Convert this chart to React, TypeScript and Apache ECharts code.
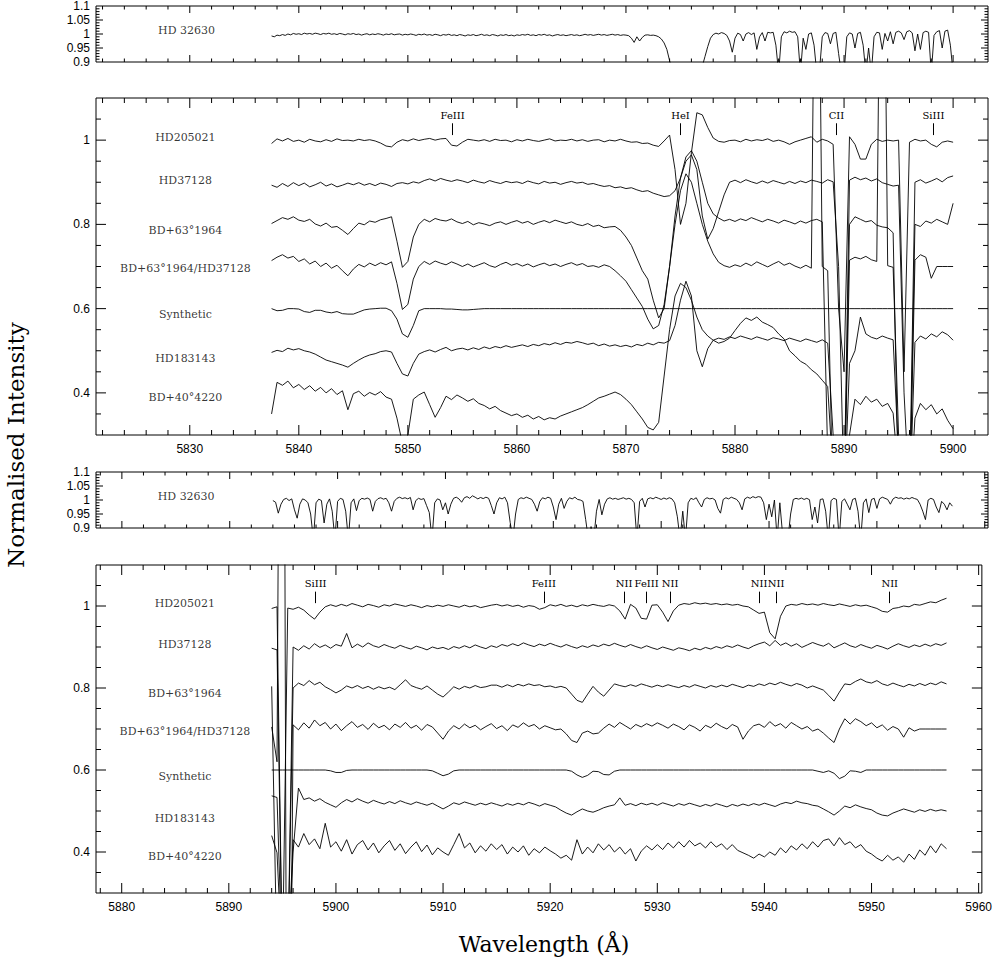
import React, { useEffect, useRef } from 'react';
import * as echarts from 'echarts';

// ---------- wavelength grids ----------
const A_START = 5837.5; // panels 1-2
const B_START = 5894.0; // panels 3-4
const STEP = 0.5;
const TSTEP = 0.25;

const starNames = ['HD205021', 'HD37128', 'BD+63°1964', 'BD+63°1964/HD37128', 'Synthetic', 'HD183143', 'BD+40°4220'];
const labelLevels = [1.007, 0.905, 0.786, 0.695, 0.585, 0.482, 0.388];
const tellName = 'HD 32630';

const idLinesA: [string, number][] = [['FeIII', 5854.1], ['HeI', 5875.0], ['CII', 5889.3], ['SiIII', 5898.2]];
const idLinesB: [string, number][] = [['SiIII', 5898.1], ['FeIII', 5919.4], ['NII', 5926.9], ['FeIII', 5929.0], ['NII', 5931.2], ['NII', 5939.5], ['NII', 5941.1], ['NII', 5951.7]];

// ---------- telluric standard HD 32630 ----------
const tellA = [
  0.993, 0.990, 0.996, 0.994, 0.998, 0.995, 1.000, 0.997, 1.002, 0.999,
  1.001, 0.998, 1.003, 1.000, 1.002, 0.999, 1.003, 1.001, 0.998, 1.002,
  1.000, 1.003, 0.999, 1.001, 0.998, 1.002, 1.000, 0.997, 1.001, 0.999,
  1.002, 0.998, 1.000, 0.996, 0.999, 1.001, 0.997, 1.000, 0.998, 1.001,
  0.999, 0.996, 1.000, 0.998, 1.001, 0.997, 0.999, 1.000, 0.996, 0.999,
  0.997, 1.000, 0.998, 0.995, 0.999, 0.997, 1.000, 0.996, 0.998, 0.995,
  0.999, 0.997, 0.994, 0.998, 0.996, 0.999, 0.995, 0.997, 0.994, 0.998,
  0.996, 0.993, 0.997, 0.995, 0.998, 0.994, 0.996, 0.999, 0.995, 0.997,
  0.994, 0.998, 0.996, 0.993, 0.997, 0.995, 0.998, 0.994, 0.996, 0.993,
  0.997, 0.995, 0.998, 0.996, 0.999, 0.995, 0.997, 0.994, 0.998, 0.996,
  0.999, 0.995, 0.997, 0.993, 0.996, 0.998, 0.995, 0.997, 0.994, 0.996,
  0.998, 0.995, 0.997, 0.994, 0.996, 0.999, 0.996, 0.998, 0.995, 0.997,
  0.999, 0.996, 0.998, 0.995, 0.997, 0.999, 0.996, 0.998, 0.995, 0.997,
  0.996, 0.994, 0.985, 0.970, 0.990, 0.975, 0.988, 0.996, 0.997, 0.995,
  0.996, 0.994, 0.990, 0.982, 0.968, 0.945, 0.905, 0.860, 0.820, 0.800,
  0.780, 0.770, 0.760, 0.760, 0.765, 0.780, 0.810, 0.840, 0.885, 0.920,
  0.955, 0.985, 0.998, 1.003, 1.000, 1.005, 1.002, 0.995, 0.975, 0.935,
  0.985, 1.003, 0.998, 0.975, 1.000, 1.005, 0.998, 1.004, 0.945, 0.990,
  1.005, 0.975, 1.006, 1.004, 1.006, 0.960, 0.860, 0.990, 1.008, 1.004,
  1.010, 1.006, 1.008, 0.990, 0.860, 0.985, 0.945, 1.000, 1.004, 0.960,
  0.860, 0.870, 0.990, 1.005, 1.002, 0.965, 1.002, 1.006, 0.930, 0.860,
  0.860, 0.990, 1.004, 1.000, 0.950, 1.002, 1.006, 0.960, 0.860, 0.950,
  0.860, 0.990, 1.006, 1.004, 0.945, 1.002, 0.975, 1.008, 0.965, 1.006,
  1.010, 1.004, 0.980, 1.008, 1.012, 1.004, 0.940, 1.000, 0.945, 1.005,
  1.010, 1.006, 0.860, 0.995, 1.008, 1.012, 0.950, 1.010, 1.014, 0.960,
  0.860,
];
const tellB = [
  0.998, 0.992, 0.953, 0.985, 1.002, 1.006, 0.998, 1.004, 0.965, 0.935,
  0.985, 1.004, 1.000, 0.990, 0.950, 0.860, 0.990, 1.003, 0.998, 0.918,
  0.985, 1.004, 0.960, 0.860, 0.995, 1.006, 1.002, 0.960, 0.860, 0.990,
  1.004, 0.962, 0.998, 1.006, 1.003, 1.007, 1.002, 0.960, 0.995, 1.005,
  1.008, 1.003, 1.006, 0.990, 0.960, 0.995, 1.006, 1.010, 1.005, 1.008,
  1.004, 1.009, 0.965, 0.998, 1.006, 1.002, 1.005, 0.980, 0.955, 0.860,
  0.990, 1.004, 1.000, 0.965, 0.990, 0.950, 0.985, 1.006, 1.010, 1.004,
  0.992, 1.008, 1.012, 1.006, 1.015, 1.010, 1.004, 1.009, 1.005, 1.010,
  1.006, 0.980, 0.950, 0.990, 1.008, 1.004, 1.010, 0.990, 0.920, 0.860,
  0.950, 1.002, 1.008, 1.005, 1.010, 1.006, 1.002, 0.985, 0.960, 0.995,
  1.008, 1.004, 1.010, 1.006, 0.975, 0.930, 0.985, 1.006, 0.970, 0.995,
  1.008, 1.004, 1.010, 1.002, 1.000, 0.995, 0.930, 0.860, 0.905, 0.860,
  0.960, 1.002, 0.947, 0.985, 1.004, 1.008, 1.003, 1.006, 1.002, 1.005,
  1.008, 1.003, 1.006, 1.002, 0.990, 0.860, 0.995, 1.006, 0.975, 1.004,
  1.008, 1.004, 1.010, 1.006, 1.002, 1.007, 1.003, 1.008, 1.004, 0.990,
  0.940, 0.860, 0.960, 0.860, 0.990, 1.006, 1.002, 1.008, 0.990, 0.975,
  1.002, 1.008, 1.004, 1.006, 1.000, 0.970, 0.953, 1.002, 1.008, 1.004,
  1.010, 1.006, 1.002, 0.990, 0.965, 1.004, 1.010, 1.006, 1.012, 1.008,
  1.012, 1.010, 0.990, 0.930, 0.985, 0.940, 1.000, 0.860, 0.990, 0.880,
  0.860, 0.860, 0.950, 1.002, 1.006, 1.003, 1.007, 1.002, 1.006, 1.001,
  0.930, 0.975, 0.918, 1.002, 1.004, 0.960, 0.860, 0.998, 1.006, 1.002,
  0.860, 0.995, 1.004, 0.985, 0.965, 1.002, 1.006, 0.960, 0.860, 0.990,
  1.004, 0.955, 1.002, 1.006, 0.970, 1.004, 1.010, 1.006, 1.002, 0.985,
  1.004, 1.010, 1.006, 1.008, 1.003, 1.007, 1.004, 1.009, 1.005, 1.002,
  0.985, 0.960, 0.930, 1.000, 1.006, 1.002, 0.975, 0.955, 0.995, 0.985,
  0.965, 0.990, 0.978,
];

// ---------- panel 2 (5837.5 - 5900, step 0.5) ----------
const hd205021A = [
  0.992, 1.003, 0.998, 1.004, 0.997,
  1.000, 0.995, 1.002, 0.998, 0.996, 1.001, 0.997, 1.003, 0.999, 1.000,
  0.998, 1.002, 0.999, 1.001, 0.998, 0.993, 0.986, 0.984, 0.995, 1.001,
  0.998, 1.003, 0.999, 1.002, 1.004, 1.000, 1.003, 1.004, 0.988, 0.986,
  0.995, 1.002, 1.000, 0.998, 1.001, 0.997, 1.002, 0.999, 1.000, 0.996,
  1.001, 0.998, 1.002, 0.999, 0.997, 1.000, 1.003, 0.998, 1.000, 0.999,
  1.002, 0.998, 1.001, 0.997, 1.000, 1.001, 0.996, 1.000, 0.998, 1.002,
  0.998, 0.995, 0.996, 0.992, 0.993, 0.988, 0.985, 0.998, 1.012, 0.930,
  0.800, 0.850, 0.970, 1.065, 1.060, 1.030, 1.005, 0.997, 0.995, 0.999,
  1.000, 0.996, 1.002, 0.998, 1.001, 0.999, 1.003, 0.997, 1.000, 0.996,
  0.990, 0.996, 1.000, 1.004, 1.008, 0.995, 1.002, 0.998, 0.990, 0.600,
  0.450, 1.008, 0.990, 0.955, 0.955, 0.990, 1.002, 0.997, 1.000, 0.998,
  1.000, 0.450, 0.995, 1.002, 0.998, 1.000, 0.990, 0.984, 0.995, 0.998,
  0.995,
];
const hd37128A = [
  0.893, 0.888, 0.897, 0.890, 0.899,
  0.892, 0.898, 0.889, 0.894, 0.900, 0.891, 0.896, 0.889, 0.893, 0.898,
  0.894, 0.899, 0.893, 0.897, 0.892, 0.898, 0.895, 0.890, 0.897, 0.899,
  0.896, 0.901, 0.898, 0.904, 0.908, 0.903, 0.909, 0.905, 0.902, 0.906,
  0.903, 0.899, 0.905, 0.901, 0.898, 0.904, 0.900, 0.897, 0.902, 0.899,
  0.901, 0.897, 0.903, 0.899, 0.896, 0.902, 0.898, 0.900, 0.895, 0.899,
  0.902, 0.898, 0.900, 0.895, 0.897, 0.893, 0.890, 0.892, 0.887, 0.889,
  0.885, 0.887, 0.882, 0.878, 0.880, 0.874, 0.870, 0.866, 0.868, 0.880,
  0.910, 0.950, 0.965, 0.930, 0.820, 0.765, 0.790, 0.830, 0.870, 0.900,
  0.905, 0.899, 0.906, 0.901, 0.897, 0.903, 0.898, 0.904, 0.900, 0.896,
  0.902, 0.897, 0.903, 0.899, 0.905, 0.902, 0.898, 0.906, 0.901, 0.700,
  0.150, 0.905, 0.912, 0.906, 0.910, 0.903, 0.908, 0.899, 0.895, 0.891,
  0.893, 0.400, 0.150, 0.900, 0.906, 0.898, 0.903, 0.909, 0.901, 0.911,
  0.915,
];
const bd63A = [
  0.802, 0.809, 0.816, 0.812, 0.818,
  0.810, 0.807, 0.812, 0.801, 0.796, 0.803, 0.793, 0.795, 0.786, 0.776,
  0.790, 0.803, 0.799, 0.808, 0.805, 0.811, 0.814, 0.818, 0.760, 0.698,
  0.712, 0.770, 0.800, 0.812, 0.806, 0.814, 0.810, 0.808, 0.813, 0.806,
  0.802, 0.807, 0.799, 0.804, 0.801, 0.797, 0.803, 0.806, 0.800, 0.805,
  0.809, 0.803, 0.807, 0.800, 0.805, 0.809, 0.804, 0.810, 0.806, 0.802,
  0.806, 0.800, 0.797, 0.802, 0.795, 0.798, 0.792, 0.794, 0.795, 0.786,
  0.770, 0.750, 0.720, 0.690, 0.670, 0.620, 0.578, 0.600, 0.700, 0.820,
  0.910, 0.960, 0.975, 0.950, 0.900, 0.850, 0.825, 0.815, 0.808, 0.812,
  0.807, 0.813, 0.809, 0.816, 0.811, 0.806, 0.812, 0.808, 0.803, 0.810,
  0.806, 0.801, 0.808, 0.803, 0.809, 0.812, 0.806, 0.250, 0.120, 0.120,
  0.120, 0.800, 0.818, 0.812, 0.806, 0.809, 0.798, 0.794, 0.792, 0.780,
  0.150, 0.120, 0.120, 0.800, 0.795, 0.808, 0.803, 0.812, 0.806, 0.800,
  0.850,
];
const ratioA = [
  0.714, 0.722, 0.728, 0.720, 0.724,
  0.712, 0.718, 0.706, 0.713, 0.700, 0.708, 0.696, 0.703, 0.690, 0.678,
  0.694, 0.705, 0.699, 0.708, 0.702, 0.709, 0.704, 0.711, 0.660, 0.598,
  0.610, 0.670, 0.700, 0.712, 0.705, 0.713, 0.708, 0.704, 0.711, 0.706,
  0.700, 0.706, 0.699, 0.704, 0.709, 0.702, 0.698, 0.705, 0.710, 0.703,
  0.707, 0.701, 0.706, 0.699, 0.704, 0.708, 0.702, 0.706, 0.700, 0.705,
  0.709, 0.703, 0.707, 0.700, 0.702, 0.698, 0.704, 0.700, 0.690, 0.678,
  0.665, 0.645, 0.625, 0.605, 0.575, 0.552, 0.560, 0.610, 0.700, 0.800,
  0.880, 0.920, 0.900, 0.850, 0.800, 0.760, 0.730, 0.710, 0.702, 0.698,
  0.704, 0.700, 0.708, 0.702, 0.711, 0.705, 0.699, 0.706, 0.712, 0.703,
  0.708, 0.701, 0.696, 0.703, 0.696, 2.000, 0.700, 0.690, 0.120, 0.120,
  0.120, 0.715, 0.722, 0.718, 0.724, 0.716, 0.712, 2.000, 0.702, 0.698,
  0.300, 0.120, 0.120, 0.715, 0.728, 0.722, 0.672, 0.700, 0.700, 0.700,
  0.700,
];
const synthA = [
  0.600, 0.595, 0.596, 0.600, 0.600,
  0.599, 0.593, 0.591, 0.596, 0.596, 0.592, 0.590, 0.593, 0.588, 0.587,
  0.587, 0.592, 0.597, 0.599, 0.600, 0.601, 0.601, 0.595, 0.575, 0.540,
  0.532, 0.560, 0.595, 0.600, 0.600, 0.600, 0.600, 0.599, 0.599, 0.598,
  0.597, 0.597, 0.598, 0.599, 0.600, 0.600, 0.600, 0.600, 0.600, 0.600,
  0.600, 0.600, 0.600, 0.600, 0.600, 0.600, 0.600, 0.600, 0.600, 0.600,
  0.600, 0.600, 0.600, 0.600, 0.600, 0.600, 0.600, 0.600, 0.600, 0.600,
  0.600, 0.600, 0.600, 0.600, 0.600, 0.600, 0.600, 0.600, 0.600, 0.600,
  0.600, 0.600, 0.600, 0.600, 0.600, 0.600, 0.600, 0.600, 0.600, 0.600,
  0.600, 0.600, 0.600, 0.600, 0.600, 0.600, 0.600, 0.600, 0.600, 0.600,
  0.600, 0.600, 0.600, 0.600, 0.600, 0.600, 0.600, 0.600, 0.600, 0.600,
  0.600, 0.600, 0.600, 0.600, 0.600, 0.600, 0.600, 0.600, 0.600, 0.600,
  0.600, 0.600, 0.600, 0.600, 0.600, 0.600, 0.600, 0.600, 0.600, 0.600,
  0.600,
];
const hd183143A = [
  0.496, 0.501, 0.498, 0.506, 0.502,
  0.505, 0.500, 0.497, 0.492, 0.485, 0.478, 0.474, 0.470, 0.466, 0.461,
  0.470, 0.478, 0.485, 0.490, 0.493, 0.498, 0.500, 0.497, 0.470, 0.445,
  0.440, 0.470, 0.492, 0.498, 0.502, 0.497, 0.503, 0.508, 0.500, 0.504,
  0.506, 0.502, 0.507, 0.503, 0.509, 0.505, 0.510, 0.507, 0.512, 0.508,
  0.511, 0.514, 0.510, 0.515, 0.512, 0.517, 0.514, 0.519, 0.515, 0.520,
  0.518, 0.522, 0.519, 0.515, 0.518, 0.512, 0.516, 0.511, 0.514, 0.510,
  0.513, 0.509, 0.515, 0.512, 0.518, 0.514, 0.520, 0.518, 0.524, 0.560,
  0.620, 0.665, 0.630, 0.500, 0.462, 0.505, 0.525, 0.530, 0.527, 0.533,
  0.529, 0.535, 0.531, 0.527, 0.533, 0.529, 0.525, 0.531, 0.528, 0.524,
  0.530, 0.526, 0.522, 0.528, 0.524, 0.520, 0.526, 0.518, 0.300, 0.120,
  0.120, 0.470, 0.500, 0.580, 0.540, 0.532, 0.528, 0.535, 0.530, 0.526,
  0.250, 0.120, 0.120, 0.520, 0.535, 0.528, 0.540, 0.533, 0.545, 0.538,
  0.525,
];
const bd40A = [
  0.350, 0.425, 0.418, 0.428, 0.412,
  0.420, 0.408, 0.417, 0.404, 0.413, 0.400, 0.410, 0.396, 0.405, 0.360,
  0.398, 0.404, 0.392, 0.401, 0.395, 0.403, 0.390, 0.385, 0.340, 0.280,
  0.300, 0.385, 0.395, 0.402, 0.372, 0.342, 0.365, 0.392, 0.384, 0.395,
  0.388, 0.380, 0.386, 0.375, 0.370, 0.362, 0.368, 0.358, 0.352, 0.346,
  0.350, 0.342, 0.347, 0.338, 0.344, 0.336, 0.341, 0.338, 0.345, 0.350,
  0.355, 0.360, 0.365, 0.372, 0.380, 0.388, 0.392, 0.397, 0.402, 0.396,
  0.385, 0.372, 0.355, 0.338, 0.318, 0.312, 0.330, 0.440, 0.550, 0.630,
  0.660, 0.650, 0.620, 0.580, 0.550, 0.535, 0.525, 0.518, 0.522, 0.530,
  0.548, 0.565, 0.578, 0.572, 0.580, 0.568, 0.562, 0.555, 0.540, 0.528,
  0.500, 0.488, 0.475, 0.468, 0.455, 0.445, 0.430, 0.415, 0.200, 0.120,
  0.120, 0.300, 0.385, 0.372, 0.392, 0.378, 0.385, 0.368, 0.375, 0.352,
  0.200, 0.120, 0.120, 0.340, 0.375, 0.360, 0.372, 0.350, 0.362, 0.335,
  0.315,
];

// ---------- panel 4 (5894 - 5957, step 0.5) ----------
const hd205021B = [
  0.994, 0.998,
  0.120, 0.995, 0.992, 0.997, 0.990, 0.978, 0.968, 0.985, 0.998, 1.003,
  0.999, 1.004, 1.000, 1.006, 1.002, 0.998, 1.004, 1.001, 0.997, 1.003,
  1.000, 1.005, 1.002, 0.999, 1.003, 1.000, 0.996, 1.001, 0.998, 1.002,
  0.999, 1.003, 1.000, 0.997, 1.002, 0.998, 1.001, 0.996, 0.999, 1.002,
  1.004, 1.000, 1.003, 0.999, 1.002, 0.997, 1.001, 0.999, 0.992, 0.996,
  1.003, 1.000, 1.004, 0.999, 1.002, 0.998, 1.003, 1.000, 1.004, 1.001,
  0.999, 1.003, 1.000, 0.988, 0.968, 1.004, 0.995, 0.970, 0.968, 1.002,
  1.003, 0.985, 0.962, 0.988, 1.002, 1.006, 1.004, 1.008, 1.005, 1.007,
  1.004, 1.006, 1.003, 1.005, 1.002, 1.004, 1.000, 0.998, 0.990, 0.982,
  0.985, 0.935, 0.920, 0.975, 1.000, 1.004, 1.002, 1.006, 1.003, 1.005,
  1.002, 1.006, 1.003, 1.001, 1.005, 1.002, 0.999, 1.003, 1.000, 1.002,
  0.998, 0.994, 0.987, 0.985, 0.994, 0.996, 1.000, 0.998, 1.004, 1.002,
  1.006, 1.010, 1.008, 1.014, 1.019,
];
const hd37128B = [
  0.897, 0.893,
  0.120, 0.120, 0.900, 0.892, 0.903, 0.895, 0.908, 0.899, 0.905, 0.897,
  0.906, 0.902, 0.933, 0.898, 0.907, 0.900, 0.910, 0.903, 0.899, 0.906,
  0.901, 0.897, 0.904, 0.899, 0.895, 0.902, 0.898, 0.893, 0.900, 0.896,
  0.899, 0.894, 0.901, 0.897, 0.903, 0.898, 0.905, 0.900, 0.896, 0.903,
  0.899, 0.906, 0.902, 0.908, 0.903, 0.910, 0.905, 0.901, 0.907, 0.903,
  0.909, 0.904, 0.900, 0.906, 0.901, 0.897, 0.903, 0.899, 0.905, 0.901,
  0.907, 0.903, 0.909, 0.904, 0.900, 0.906, 0.901, 0.897, 0.903, 0.898,
  0.894, 0.900, 0.896, 0.892, 0.898, 0.895, 0.891, 0.897, 0.893, 0.899,
  0.895, 0.901, 0.897, 0.903, 0.899, 0.905, 0.900, 0.896, 0.903, 0.908,
  0.912, 0.903, 0.916, 0.904, 0.910, 0.902, 0.908, 0.899, 0.905, 0.911,
  0.906, 0.902, 0.909, 0.898, 0.904, 0.910, 0.903, 0.899, 0.906, 0.901,
  0.897, 0.904, 0.900, 0.895, 0.902, 0.908, 0.903, 0.899, 0.905, 0.901,
  0.907, 0.902, 0.908, 0.904, 0.910,
];
const bd63B = [
  0.804, 0.120,
  0.120, 0.120, 0.800, 0.812, 0.806, 0.818, 0.808, 0.814, 0.803, 0.796,
  0.788, 0.795, 0.805, 0.800, 0.806, 0.799, 0.804, 0.797, 0.803, 0.798,
  0.802, 0.796, 0.808, 0.820, 0.806, 0.801, 0.797, 0.805, 0.795, 0.785,
  0.778, 0.790, 0.803, 0.797, 0.804, 0.800, 0.806, 0.801, 0.803, 0.807,
  0.807, 0.802, 0.808, 0.803, 0.809, 0.805, 0.810, 0.806, 0.808, 0.803,
  0.805, 0.801, 0.804, 0.800, 0.785, 0.770, 0.765, 0.785, 0.804, 0.790,
  0.780, 0.795, 0.810, 0.806, 0.803, 0.808, 0.804, 0.810, 0.806, 0.802,
  0.807, 0.803, 0.808, 0.804, 0.801, 0.806, 0.802, 0.808, 0.804, 0.800,
  0.806, 0.802, 0.807, 0.803, 0.809, 0.805, 0.801, 0.807, 0.804, 0.810,
  0.806, 0.812, 0.808, 0.814, 0.809, 0.805, 0.811, 0.807, 0.800, 0.805,
  0.800, 0.795, 0.782, 0.768, 0.790, 0.810, 0.808, 0.816, 0.822, 0.815,
  0.812, 0.818, 0.810, 0.806, 0.812, 0.807, 0.803, 0.809, 0.805, 0.811,
  0.806, 0.812, 0.808, 0.815, 0.810,
];
const ratioB = [
  0.705, 0.620,
  3.000, -1.000, 0.710, 0.698, 0.715, 0.702, 0.722, 0.708, 0.716, 0.700,
  0.712, 0.696, 0.708, 0.718, 0.704, 0.711, 0.699, 0.714, 0.703, 0.709,
  0.698, 0.712, 0.704, 0.716, 0.702, 0.709, 0.697, 0.711, 0.705, 0.690,
  0.675, 0.695, 0.708, 0.700, 0.712, 0.703, 0.709, 0.698, 0.706, 0.713,
  0.701, 0.708, 0.696, 0.710, 0.704, 0.715, 0.706, 0.711, 0.700, 0.708,
  0.703, 0.698, 0.700, 0.688, 0.672, 0.667, 0.690, 0.695, 0.688, 0.690,
  0.702, 0.712, 0.704, 0.716, 0.708, 0.700, 0.711, 0.705, 0.713, 0.707,
  0.715, 0.709, 0.702, 0.712, 0.706, 0.698, 0.710, 0.704, 0.695, 0.709,
  0.703, 0.714, 0.706, 0.700, 0.711, 0.705, 0.675, 0.695, 0.708, 0.712,
  0.704, 0.718, 0.707, 0.713, 0.702, 0.716, 0.708, 0.700, 0.706, 0.695,
  0.700, 0.690, 0.678, 0.667, 0.700, 0.725, 0.712, 0.725, 0.718, 0.708,
  0.715, 0.703, 0.710, 0.697, 0.706, 0.700, 0.680, 0.703, 0.695, 0.700,
  0.700, 0.700, 0.700, 0.700, 0.700,
];
const synthB = [
  0.600, 0.600,
  0.600, 0.600, 0.600, 0.600, 0.600, 0.600, 0.600, 0.600, 0.600, 0.598,
  0.594, 0.594, 0.599, 0.600, 0.600, 0.600, 0.600, 0.600, 0.600, 0.600,
  0.600, 0.600, 0.600, 0.600, 0.600, 0.600, 0.600, 0.600, 0.598, 0.592,
  0.586, 0.590, 0.598, 0.600, 0.600, 0.600, 0.600, 0.600, 0.600, 0.600,
  0.600, 0.600, 0.600, 0.600, 0.600, 0.600, 0.600, 0.600, 0.600, 0.600,
  0.600, 0.600, 0.600, 0.600, 0.597, 0.588, 0.582, 0.587, 0.597, 0.596,
  0.589, 0.588, 0.597, 0.600, 0.600, 0.600, 0.600, 0.600, 0.600, 0.600,
  0.600, 0.600, 0.600, 0.600, 0.600, 0.600, 0.600, 0.600, 0.600, 0.600,
  0.600, 0.600, 0.600, 0.600, 0.600, 0.600, 0.600, 0.600, 0.600, 0.600,
  0.600, 0.600, 0.600, 0.600, 0.600, 0.600, 0.600, 0.600, 0.600, 0.600,
  0.597, 0.594, 0.598, 0.592, 0.579, 0.585, 0.598, 0.597, 0.594, 0.600,
  0.600, 0.600, 0.600, 0.600, 0.600, 0.600, 0.600, 0.600, 0.600, 0.600,
  0.600, 0.600, 0.600, 0.600, 0.600,
];
const hd183143B = [
  0.537, 0.533,
  0.120, 0.120, 0.400, 0.556, 0.528, 0.532, 0.524, 0.530, 0.521, 0.515,
  0.509, 0.520, 0.528, 0.522, 0.530, 0.524, 0.519, 0.526, 0.521, 0.517,
  0.523, 0.518, 0.525, 0.520, 0.516, 0.522, 0.518, 0.514, 0.519, 0.512,
  0.505, 0.512, 0.520, 0.516, 0.522, 0.518, 0.514, 0.519, 0.515, 0.520,
  0.516, 0.512, 0.518, 0.514, 0.519, 0.515, 0.521, 0.517, 0.512, 0.518,
  0.514, 0.510, 0.502, 0.495, 0.490, 0.498, 0.505, 0.500, 0.497, 0.502,
  0.508, 0.512, 0.515, 0.532, 0.514, 0.518, 0.513, 0.519, 0.515, 0.519,
  0.514, 0.520, 0.516, 0.512, 0.518, 0.514, 0.519, 0.515, 0.511, 0.516,
  0.512, 0.518, 0.514, 0.510, 0.516, 0.512, 0.517, 0.513, 0.518, 0.514,
  0.519, 0.515, 0.511, 0.517, 0.521, 0.518, 0.524, 0.520, 0.518, 0.514,
  0.512, 0.505, 0.498, 0.490, 0.500, 0.512, 0.508, 0.515, 0.510, 0.506,
  0.503, 0.495, 0.490, 0.488, 0.495, 0.500, 0.505, 0.501, 0.497, 0.503,
  0.499, 0.504, 0.500, 0.503, 0.500,
];
const bd40B = [
  0.440, 0.398,
  0.120, 0.120, 0.430, 0.412, 0.445, 0.418, 0.432, 0.408, 0.470, 0.412,
  0.425, 0.402, 0.430, 0.395, 0.418, 0.428, 0.405, 0.422, 0.398, 0.415,
  0.428, 0.404, 0.420, 0.396, 0.412, 0.425, 0.401, 0.417, 0.393, 0.410,
  0.400, 0.392, 0.418, 0.445, 0.410, 0.422, 0.398, 0.415, 0.402, 0.420,
  0.406, 0.418, 0.395, 0.412, 0.400, 0.415, 0.392, 0.408, 0.398, 0.412,
  0.403, 0.395, 0.385, 0.392, 0.380, 0.430, 0.395, 0.412, 0.398, 0.420,
  0.405, 0.418, 0.400, 0.412, 0.395, 0.408, 0.378, 0.402, 0.415, 0.405,
  0.418, 0.406, 0.422, 0.410, 0.425, 0.412, 0.428, 0.415, 0.422, 0.410,
  0.425, 0.412, 0.420, 0.406, 0.418, 0.404, 0.398, 0.392, 0.385, 0.395,
  0.388, 0.400, 0.392, 0.410, 0.398, 0.415, 0.405, 0.420, 0.408, 0.425,
  0.412, 0.428, 0.432, 0.415, 0.435, 0.418, 0.425, 0.410, 0.418, 0.402,
  0.395, 0.385, 0.378, 0.392, 0.380, 0.388, 0.375, 0.395, 0.382, 0.405,
  0.392, 0.415, 0.398, 0.420, 0.408,
];

// ---------- axis ranges & ticks ----------
const xRangeA = [5821.4, 5903.2];
const xRangeB = [5877.6, 5960.3];
const yRangeMain = [0.3, 1.1];
const yRangeTell = [0.9, 1.1];
const xMajorA = [5830, 5840, 5850, 5860, 5870, 5880, 5890, 5900];
const xMajorB = [5880, 5890, 5900, 5910, 5920, 5930, 5940, 5950, 5960];
const yMajorMain = [0.4, 0.6, 0.8, 1.0];
const yMinorMain = [0.35, 0.45, 0.5, 0.55, 0.65, 0.7, 0.75, 0.85, 0.9, 0.95, 1.05];
const yMajorTell = [0.95, 1.0, 1.05];
const yMinorTell = [0.91, 0.92, 0.93, 0.94, 0.96, 0.97, 0.98, 0.99, 1.01, 1.02, 1.03, 1.04, 1.06, 1.07, 1.08, 1.09];

const minorBetween = (lo: number, hi: number) => {
  const out: number[] = [];
  for (let v = lo; v <= hi; v += 2) if (v % 10 !== 0) out.push(v);
  return out;
};
const xMinorA = minorBetween(5822, 5902);
const xMinorB = minorBetween(5878, 5958);

const toPairs = (start: number, step: number, vals: number[]) =>
  vals.map((v, i) => [Math.round((start + i * step) * 100) / 100, v]);

const SERIF = '"DejaVu Serif", serif';
const SANS = '"Liberation Sans", Arial, sans-serif';

// tick marks on all four sides, positioned through the axes of the grid
function tickSeries(gi: number, xMaj: number[], xMin: number[], yMaj: number[], yMin: number[], xRef: number, yRef: number, majLen: number, minLen: number) {
  const data: number[][] = [
    ...xMaj.map((v) => [v, yRef, 1, 0]),
    ...xMin.map((v) => [v, yRef, 0, 0]),
    ...yMaj.map((v) => [xRef, v, 1, 1]),
    ...yMin.map((v) => [xRef, v, 0, 1]),
  ];
  return {
    type: 'custom',
    xAxisIndex: gi,
    yAxisIndex: gi,
    silent: true,
    z: 10,
    clip: false,
    dimensions: ['x', 'y', 'major', 'kind'],
    encode: { x: 0, y: 1 },
    data,
    renderItem: (params: any, api: any) => {
      const len = api.value(2) ? majLen : minLen;
      const kind = api.value(3);
      const cs = params.coordSys;
      const pt = api.coord([api.value(0), api.value(1)]);
      const st = { stroke: '#000', lineWidth: 1 };
      if (kind === 0) {
        const px = pt[0];
        const b = cs.y + cs.height;
        return {
          type: 'group',
          children: [
            { type: 'line', shape: { x1: px, y1: b, x2: px, y2: b - len }, style: st },
            { type: 'line', shape: { x1: px, y1: cs.y, x2: px, y2: cs.y + len }, style: st },
          ],
        };
      }
      const py = pt[1];
      const r = cs.x + cs.width;
      return {
        type: 'group',
        children: [
          { type: 'line', shape: { x1: cs.x, y1: py, x2: cs.x + len, y2: py }, style: st },
          { type: 'line', shape: { x1: r, y1: py, x2: r - len, y2: py }, style: st },
        ],
      };
    },
  };
}

function specSeries(gi: number, start: number, step: number, vals: number[], extra: any = {}) {
  return {
    type: 'line',
    xAxisIndex: gi,
    yAxisIndex: gi,
    data: toPairs(start, step, vals),
    showSymbol: false,
    symbol: 'none',
    clip: true,
    silent: true,
    lineStyle: { color: '#000', width: 0.9 },
    z: 3,
    ...extra,
  };
}

function idMarkLine(lines: [string, number][], y0: number, y1: number) {
  return {
    silent: true,
    symbol: ['none', 'none'],
    lineStyle: { color: '#000', width: 1, type: 'solid' },
    label: { show: true, position: 'end', formatter: '{b}', fontFamily: SERIF, fontSize: 10, color: '#000', distance: 3 },
    emphasis: { disabled: true },
    data: lines.map(([name, wl]) => [{ name, coord: [wl, y0] }, { coord: [wl, y1] }]),
  };
}

function nameSeries(gi: number, x: number, levels: number[], names: string[]) {
  return {
    type: 'scatter',
    xAxisIndex: gi,
    yAxisIndex: gi,
    silent: true,
    symbolSize: 1,
    itemStyle: { color: 'rgba(0,0,0,0)' },
    data: levels.map((y) => [x, y]),
    z: 6,
    label: {
      show: true,
      position: 'inside',
      formatter: (p: any) => names[p.dataIndex],
      fontFamily: SERIF,
      fontSize: 11,
      color: '#000',
    },
  };
}

const App: React.FC = () => {
  const ref = useRef<HTMLDivElement>(null);
  useEffect(() => {
    if (!ref.current) return;
    const chart = echarts.init(ref.current, undefined, { renderer: 'svg' });
    const grids = [
      { left: 96, top: 5, width: 892, height: 57 },
      { left: 96, top: 98, width: 892, height: 337 },
      { left: 96, top: 472, width: 892, height: 56 },
      { left: 96, top: 565, width: 892, height: 328 },
    ].map((g) => ({ ...g, show: true, borderColor: '#000', borderWidth: 1, backgroundColor: 'transparent' }));

    const xr = [xRangeA, xRangeA, xRangeB, xRangeB];
    const xAxis = xr.map((r, i) => ({
      type: 'value',
      gridIndex: i,
      min: r[0],
      max: r[1],
      splitNumber: 8,
      axisLine: { show: false },
      axisTick: { show: false },
      splitLine: { show: false },
      axisLabel: {
        show: i === 1 || i === 3,
        showMinLabel: false,
        showMaxLabel: false,
        formatter: (v: number) => String(Math.round(v)),
        color: '#000',
        fontFamily: SANS,
        fontSize: 12,
        margin: 8,
      },
    }));
    const yAxis = [0, 1, 2, 3].map((i) => {
      const tell = i === 0 || i === 2;
      const r = tell ? yRangeTell : yRangeMain;
      return {
        type: 'value',
        gridIndex: i,
        min: r[0],
        max: r[1],
        ...(tell ? { interval: 0.05 } : { splitNumber: 4 }),
        axisLine: { show: false },
        axisTick: { show: false },
        splitLine: { show: false },
        axisLabel: {
          show: true,
          showMinLabel: tell,
          showMaxLabel: tell,
          formatter: (v: number) => String(Math.round(v * 100) / 100),
          color: '#000',
          fontFamily: SANS,
          fontSize: 12,
          margin: 6,
        },
      };
    });

    const series: any[] = [
      specSeries(0, A_START, TSTEP, tellA),
      specSeries(1, A_START, STEP, hd205021A, { markLine: idMarkLine(idLinesA, 1.012, 1.040) }),
      specSeries(1, A_START, STEP, hd37128A),
      specSeries(1, A_START, STEP, bd63A),
      specSeries(1, A_START, STEP, ratioA),
      specSeries(1, A_START, STEP, synthA),
      specSeries(1, A_START, STEP, hd183143A),
      specSeries(1, A_START, STEP, bd40A),
      specSeries(2, B_START, TSTEP, tellB),
      specSeries(3, B_START, STEP, hd205021B, { markLine: idMarkLine(idLinesB, 1.007, 1.035) }),
      specSeries(3, B_START, STEP, hd37128B),
      specSeries(3, B_START, STEP, bd63B),
      specSeries(3, B_START, STEP, ratioB),
      specSeries(3, B_START, STEP, synthB),
      specSeries(3, B_START, STEP, hd183143B),
      specSeries(3, B_START, STEP, bd40B),
      nameSeries(0, 5829.7, [1.011], [tellName]),
      nameSeries(1, 5829.6, labelLevels, starNames),
      nameSeries(2, 5885.96, [1.011], [tellName]),
      nameSeries(3, 5885.9, labelLevels, starNames),
      tickSeries(0, xMajorA, xMinorA, yMajorTell, yMinorTell, 5850, 1.0, 7, 3.5),
      tickSeries(1, xMajorA, xMinorA, yMajorMain, yMinorMain, 5850, 0.6, 10, 5),
      tickSeries(2, xMajorB, xMinorB, yMajorTell, yMinorTell, 5920, 1.0, 7, 3.5),
      tickSeries(3, xMajorB, xMinorB, yMajorMain, yMinorMain, 5920, 0.6, 10, 5),
    ];

    chart.setOption({
      animation: false,
      backgroundColor: '#fff',
      tooltip: { show: false },
      grid: grids,
      xAxis,
      yAxis,
      series,
      graphic: [
        {
          type: 'text',
          x: 16,
          y: 445,
          rotation: Math.PI / 2,
          silent: true,
          style: {
            text: 'Normalised Intensity',
            font: `23px ${SERIF}`,
            fill: '#000',
            align: 'center',
            verticalAlign: 'middle',
            textAlign: 'center',
            textVerticalAlign: 'middle',
          },
        },
        {
          type: 'text',
          x: 544,
          y: 944,
          silent: true,
          style: {
            text: 'Wavelength (Å)',
            font: `22px ${SERIF}`,
            fill: '#000',
            align: 'center',
            verticalAlign: 'middle',
            textAlign: 'center',
            textVerticalAlign: 'middle',
          },
        },
      ],
    });
    return () => chart.dispose();
  }, []);
  return <div ref={ref} style={{ position: 'absolute', left: 0, top: 0, width: 995, height: 969 }} />;
};

export default App;
